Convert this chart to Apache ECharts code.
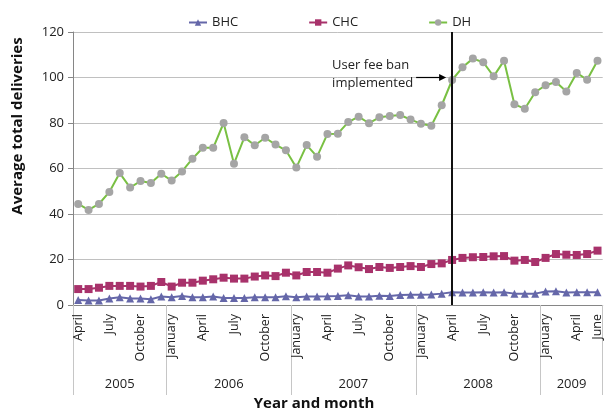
<!DOCTYPE html>
<html><head><meta charset="utf-8">
<script src="https://cdn.jsdelivr.net/npm/echarts@6/dist/echarts.min.js"></script>
<style>html,body{margin:0;padding:0;background:#fff}#c{width:604px;height:412px}</style>
</head><body><div id="c"></div>
<script>
const years = ['2005','2006','2007','2008','2009'];
const yearMonths = [
  ['April','May','June','July','August','September','October','November','December'],
  ['January','February','March','April','May','June','July','August','September','October','November','December'],
  ['January','February','March','April','May','June','July','August','September','October','November','December'],
  ['January','February','March','April','May','June','July','August','September','October','November','December'],
  ['January','February','March','April','May','June']
];
const bhc = [2.2,2.0,2.0,2.9,3.4,2.9,2.9,2.5,3.7,
  3.4,4.0,3.4,3.4,3.7,3.1,3.1,3.1,3.4,3.4,3.4,3.8,
  3.4,3.7,3.7,3.8,4.0,4.3,3.7,3.7,4.1,4.0,4.4,4.5,
  4.5,4.6,5.0,5.6,5.5,5.5,5.6,5.5,5.6,5.0,5.0,5.0,
  5.9,6.0,5.5,5.6,5.6,5.6];
const chc = [7.0,7.0,7.6,8.4,8.4,8.4,8.1,8.4,10.1,
  8.1,9.8,9.8,10.7,11.3,12.0,11.6,11.6,12.5,13.0,12.7,14.2,
  13.0,14.5,14.5,14.2,16.0,17.4,16.6,15.8,16.7,16.3,16.7,17.1,
  16.7,18.0,18.3,19.8,20.7,21.0,21.1,21.4,21.5,19.5,19.8,18.9,
  20.7,22.4,22.1,22.0,22.4,23.9];
const dh = [44.4,41.8,44.4,49.7,58.0,51.6,54.5,53.6,57.7,
  54.7,58.7,64.3,69.1,69.1,80.0,62.1,73.7,70.2,73.5,70.5,68.0,
  60.4,70.3,65.2,75.2,75.3,80.4,82.8,79.9,82.5,83.1,83.5,81.5,
  79.7,78.8,87.8,98.9,104.5,108.3,106.7,100.5,107.4,88.2,86.3,93.5,
  96.6,98.0,93.8,102.0,99.0,107.4];
const shownMonths = ['January','April','July','October'];
const banMonth = 'April 2008';
const annotation = ['User fee ban', 'implemented'];

const FONT = 'Open Sans';
const cats = [], catYear = [], yearStart = [], yearMid = [];
years.forEach((y, i) => {
  yearStart.push(cats.length);
  yearMonths[i].forEach(m => { cats.push(m + ' ' + y); catYear.push(y); });
});
years.forEach((y, i) => {
  const s = yearStart[i], n = yearMonths[i].length;
  yearMid.push({idx: Math.floor(s + (n - 1) / 2), half: n % 2 === 0});
});
const lastIdx = cats.length - 1;

const chart = echarts.init(document.getElementById('c'), null, {renderer: 'canvas'});
const option = {
  animation: false,
  textStyle: {fontFamily: FONT},
  grid: {left: 73, right: 0, top: 32, bottom: 107, containLabel: false},
  legend: {
    top: 11, left: 183, itemGap: 70, itemWidth: 18, itemHeight: 8,
    textStyle: {fontFamily: FONT, fontSize: 13, color: '#222'},
    data: ['BHC', 'CHC', 'DH']
  },
  xAxis: [{
    type: 'category', data: cats, boundaryGap: true,
    axisLine: {show: true, lineStyle: {color: '#868686', width: 1}},
    axisTick: {show: false},
    axisLabel: {
      rotate: 90, margin: 9, fontSize: 12.5, color: '#222', fontFamily: FONT,
      interval: (i) => shownMonths.includes(cats[i].split(' ')[0]) || i === lastIdx,
      formatter: (v) => v.split(' ')[0]
    },
    splitLine: {show: false}
  }, {
    type: 'category', data: cats, boundaryGap: true, position: 'bottom', offset: 0,
    axisLine: {show: false},
    axisTick: {show: true, length: 90, interval: (i) => yearStart.includes(i),
      lineStyle: {color: '#C6C6C6', width: 1}},
    axisLabel: {
      margin: 73, fontSize: 13, color: '#222', fontFamily: FONT,
      interval: (i) => yearMid.some(m => m.idx === i),
      formatter: (v, i) => {
        const m = yearMid.find(o => o.idx === i);
        return m && m.half ? '{s|' + catYear[i] + '}' : catYear[i];
      },
      rich: {s: {padding: [0, 0, 0, 10.4], fontSize: 13, color: '#222', fontFamily: FONT}}
    },
    splitLine: {show: false}
  }],
  yAxis: {
    type: 'value', min: 0, max: 120, interval: 20,
    axisLine: {show: true, lineStyle: {color: '#868686'}},
    axisTick: {show: true, length: 5, lineStyle: {color: '#868686'}},
    axisLabel: {fontSize: 13, color: '#222', margin: 9, fontFamily: FONT},
    splitLine: {lineStyle: {color: '#C0C0C0', width: 1}}
  },
  series: [{
    name: 'BHC', type: 'line', data: bhc, symbol: 'triangle', symbolSize: 8, showAllSymbol: true,
    itemStyle: {color: '#6567A9'}, lineStyle: {color: '#6567A9', width: 2}
  }, {
    name: 'CHC', type: 'line', data: chc, symbol: 'rect', symbolSize: 8, showAllSymbol: true,
    itemStyle: {color: '#A8326B'}, lineStyle: {color: '#A8326B', width: 2}
  }, {
    name: 'DH', type: 'line', data: dh, symbol: 'circle', symbolSize: 8, showAllSymbol: true,
    itemStyle: {color: '#A5A5A5'}, lineStyle: {color: '#79C043', width: 2},
    markLine: {
      silent: true, symbol: ['none', 'none'], label: {show: false},
      lineStyle: {color: '#111', width: 2, type: 'solid'},
      data: [{xAxis: banMonth}]
    },
    z: 3
  }]
};
chart.setOption(option);

const pt = chart.convertToPixel({xAxisIndex: 0, yAxisIndex: 0}, [banMonth, 100]);
const ax = pt[0] - 6, ay = pt[1];
chart.setOption({
  graphic: [
    {type: 'line', shape: {x1: ax - 30, y1: ay, x2: ax - 5, y2: ay}, style: {stroke: '#000', lineWidth: 1.2}, z: 10},
    {type: 'polygon', shape: {points: [[ax, ay], [ax - 7, ay - 3.5], [ax - 7, ay + 3.5]]}, style: {fill: '#000'}, z: 10},
    {type: 'text', x: ax - 114, y: ay - 12, style: {text: annotation[0], font: '13px "' + FONT + '"', fill: '#222', textAlign: 'left', textVerticalAlign: 'middle'}, z: 10},
    {type: 'text', x: ax - 114, y: ay + 6, style: {text: annotation[1], font: '13px "' + FONT + '"', fill: '#222', textAlign: 'left', textVerticalAlign: 'middle'}, z: 10},
    {type: 'text', x: 18, y: 126, rotation: Math.PI / 2, style: {text: 'Average total deliveries', font: 'bold 15px "' + FONT + '"', fill: '#111', textAlign: 'center', textVerticalAlign: 'middle'}},
    {type: 'text', x: 314, y: 404, style: {text: 'Year and month', font: 'bold 15px "' + FONT + '"', fill: '#111', textAlign: 'center', textVerticalAlign: 'middle'}}
  ]
});
</script></body></html>
